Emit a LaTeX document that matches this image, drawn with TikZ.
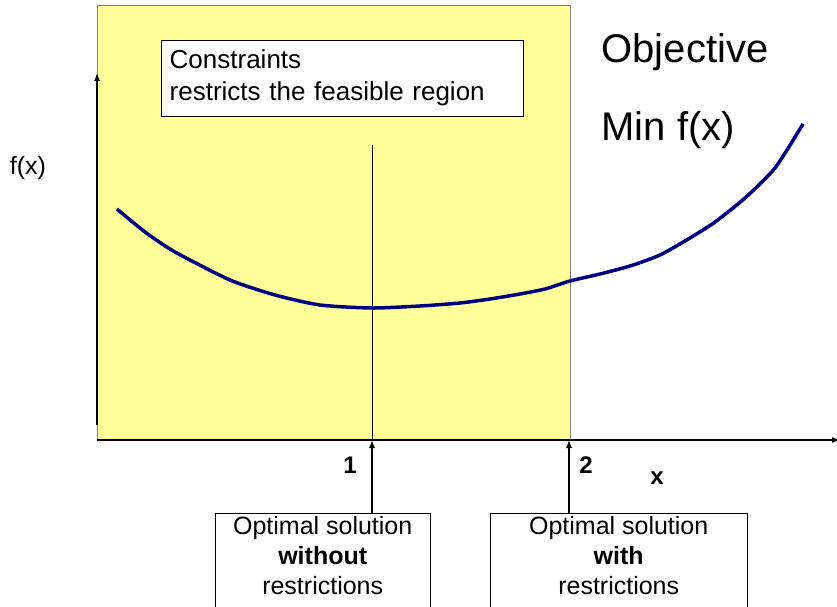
\documentclass[tikz,border=0pt]{standalone}
\usepackage{fontspec}
\setmainfont{Liberation Sans}
\usetikzlibrary{arrows.meta,positioning}
\definecolor{regionyellow}{HTML}{FFFF99}
\definecolor{curvenavy}{HTML}{000080}
\begin{document}
\begin{tikzpicture}[
  x=1pt,y=-1pt,
  axis/.style={-{Latex[length=8pt,width=6pt]},line width=1.3pt},
  arr/.style={-{Latex[length=8pt,width=6pt]},line width=1.3pt},
  box/.style={draw,fill=white,align=center,inner sep=4pt},
  solbox/.style={box,anchor=north west,inner ysep=3pt,text depth=30pt,
    font=\fontsize{25}{30}\selectfont},
  lbl/.style={font=\fontsize{25}{29}\selectfont},
  num/.style={font=\fontsize{24}{28}\selectfont\bfseries},
  big/.style={font=\fontsize{40}{46}\selectfont,anchor=west}
]
\useasboundingbox (0,0) rectangle (837,607);
% feasible region
\draw[fill=regionyellow,draw=gray] (97,5) rectangle (570,440);
% axes
\coordinate (origin) at (97,440);
\coordinate (p1) at (372,440);
\coordinate (p2) at (569,440);
\draw[axis] (97,425) -- (97,73);
\draw[axis] (origin) -- (840,440);
\node[lbl] (fx) at (28,168) {f(x)};
% constraint note
\node[box,draw=black,anchor=north west,minimum width=362pt,minimum height=76pt,
      text width=345pt,align=left,font=\fontsize{26}{32}\selectfont] (cons) at (161,40)
  {Constraints\\restricts the feasible region};
\coordinate (v1) at (372,145);
\draw[line width=0.6pt] (v1) -- (p1);
% objective
\node[big] (obj) at (598,52) {Objective};
\node[big] (minf) at (598,130) {Min f(x)};
% curve
\draw[curvenavy,line width=3.5pt,line join=round] plot[smooth,tension=0.4] coordinates {
  (117,209) (145,232) (175,252) (230,280) (275,295) (320,305) (372,308)
  (420,306) (460,303) (490,299) (520,294) (545,289) (570,281) (600,274)
  (630,266) (660,255) (690,238) (715,222) (745,198) (775,168) (803,124)};
% solutions
\node[solbox,minimum width=215pt] (sol1) at (215,513)
  {Optimal solution\\\textbf{without}\\restrictions};
\node[solbox,minimum width=257pt] (sol2) at (490,513)
  {Optimal solution\\\textbf{with}\\restrictions};
\draw[arr] (p1 |- sol1.north) -- (p1);
\draw[arr] (p2 |- sol2.north) -- (p2);
\node[num] (n1) at (350,465) {1};
\node[num] (n2) at (586,465) {2};
\node[num] (xl) at (657,478) {x};
\end{tikzpicture}
\end{document}
